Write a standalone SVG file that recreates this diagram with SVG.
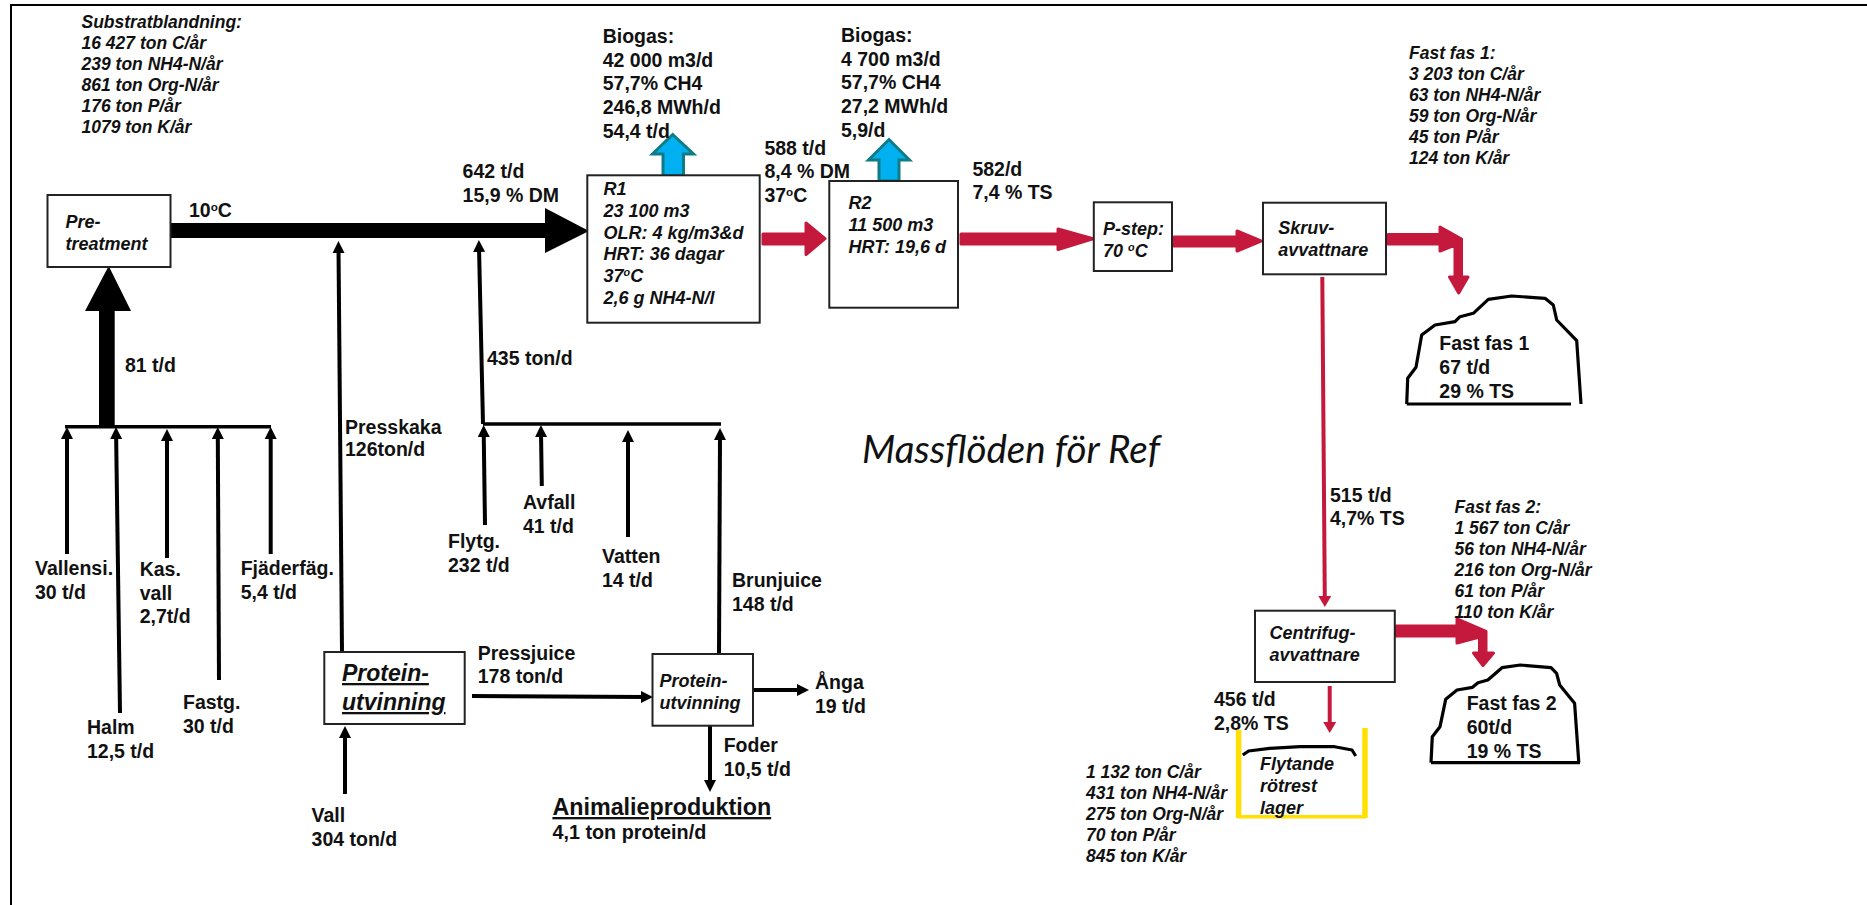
<svg xmlns="http://www.w3.org/2000/svg" width="1867" height="905" viewBox="0 0 1867 905">
<style>
text{font-family:"Liberation Sans",Arial,sans-serif;font-weight:bold;font-size:19.5px;fill:#111}
.i{font-style:italic;font-size:18px}
.l{font-style:italic;font-size:17.5px}
.box{fill:#fff;stroke:#222;stroke-width:2}
.k{fill:none;stroke:#000;stroke-width:4}
.b{fill:none;stroke:#000;stroke-width:3.5}
.kf{fill:#000;stroke:none}
.r{fill:#c4183c;stroke:#c4183c;stroke-width:3;stroke-linejoin:round}
.rl{fill:none;stroke:#c4183c;stroke-width:4}
.g{fill:#00b0f0;stroke:#0e7c86;stroke-width:3}
.p{fill:none;stroke:#000;stroke-width:3.2;stroke-linejoin:round;stroke-linecap:butt}
.y{fill:none;stroke:#ffe000;stroke-linecap:butt}
.s{font-size:60%;baseline-shift:super}
</style>
<defs>
<marker id="ah" markerUnits="userSpaceOnUse" markerWidth="12" markerHeight="13" refX="5" refY="6.5" orient="auto"><path d="M0 0.5L12 6.5L0 12.5Z" fill="#000"/></marker>
<marker id="rh" markerUnits="userSpaceOnUse" markerWidth="12" markerHeight="14" refX="2" refY="7" orient="auto"><path d="M0 0.5L11 7L0 13.5Z" fill="#c4183c"/></marker>
</defs>
<rect width="1867" height="905" fill="#fff"/>
<g id="frame"><path d="M11 905V5H1867" fill="none" stroke="#000" stroke-width="2"/></g>

<g id="connectors">
<path class="kf" d="M170 223H545V208L589 231L545 253V238H170Z"/>
<path class="kf" d="M99 427V311H85L108.700 266L131 311H114.700V427Z"/>
<path class="b" d="M65 426.700H271"/>
<path class="b" d="M483 424H721"/>
<path class="k" marker-end="url(#ah)" d="M67 554V434"/>
<path class="k" marker-end="url(#ah)" d="M120 713L116.100 434"/>
<path class="k" marker-end="url(#ah)" d="M167 558V436"/>
<path class="k" marker-end="url(#ah)" d="M219 680L217.800 434"/>
<path class="k" marker-end="url(#ah)" d="M270.700 554V434"/>
<path class="k" marker-end="url(#ah)" d="M342 652L338.500 248"/>
<path class="k" marker-end="url(#ah)" d="M483 424L479 247"/>
<path class="k" marker-end="url(#ah)" d="M485 525L483.700 432"/>
<path class="k" marker-end="url(#ah)" d="M541.800 486L541 432"/>
<path class="k" marker-end="url(#ah)" d="M628 537V437"/>
<path class="k" marker-end="url(#ah)" d="M719 654L720 435"/>
<path class="k" marker-end="url(#ah)" d="M345 794V733"/>
<path class="k" marker-end="url(#ah)" d="M472 696L646 697"/>
<path class="k" marker-end="url(#ah)" d="M753 690H802"/>
<path class="k" marker-end="url(#ah)" d="M710 726V785"/>
<path class="r" d="M763 234H806V223L825 238.700L806 254.500V244H763Z"/>
<path class="r" d="M961 234H1058V229L1093 238.700L1058 249.500V244H961Z"/>
<path class="r" d="M1174 237H1237V231L1261 241L1237 251V246H1174Z"/>
<path class="r" d="M1388 234.500H1440V227L1461.500 239V277H1468L1458.700 293L1449.500 277H1455V245L1440 251V244H1388Z"/>
<path class="rl" d="M1322.300 277L1324.800 598" marker-end="url(#rh)"/>
<path class="r" d="M1396 626H1457V619L1486 631.500V653H1493.500L1483 665.500L1473.500 653H1479.500V637L1457 643V636H1396Z"/>
<path class="rl" d="M1329.700 686V724" marker-end="url(#rh)"/>
<path class="g" d="M663 176V154H652.500L672.700 134.500L693.500 154H683.500V176Z"/>
<path class="g" d="M879 181V160H868.500L889 139.500L909.500 160H899V181Z"/>
</g>

<g id="pretreatment"><rect class="box" x="47.500" y="195" width="123" height="72"/>
<text class="i" x="65.600" y="228">Pre-</text><text class="i" x="65.600" y="250">treatment</text></g>

<g id="r1"><rect class="box" x="587.300" y="175.300" width="172.400" height="147.400"/>
<text class="i" x="603.500" y="195">R1</text><text class="i" x="603.500" y="216.500">23 100 m3</text><text class="i" x="603.500" y="238.500">OLR: 4 kg/m3&amp;d</text><text class="i" x="603.500" y="260">HRT: 36 dagar</text><text class="i" x="603.500" y="282">37<tspan class="s">o</tspan>C</text><text class="i" x="603.500" y="304">2,6 g NH4-N/l</text></g>

<g id="r2"><rect class="box" x="829.300" y="181" width="128.700" height="126.700"/>
<text class="i" x="848.600" y="209">R2</text><text class="i" x="848.600" y="231.300">11 500 m3</text><text class="i" x="848.600" y="253.300">HRT: 19,6 d</text></g>

<g id="pstep"><rect class="box" x="1093.800" y="202.300" width="78.200" height="68.700"/>
<text class="i" x="1103" y="235">P-step:</text><text class="i" x="1103" y="256.700">70 <tspan class="s">o</tspan>C</text></g>

<g id="skruv"><rect class="box" x="1263" y="202.700" width="123" height="71.600"/>
<text class="i" x="1278.300" y="234">Skruv-</text><text class="i" x="1278.300" y="256">avvattnare</text></g>

<g id="centrifug"><rect class="box" x="1255" y="610.700" width="139.800" height="71.300"/>
<text class="i" x="1269.600" y="639">Centrifug-</text><text class="i" x="1269.600" y="660.700">avvattnare</text></g>

<g id="protein1"><rect class="box" x="324.300" y="652" width="140.400" height="72"/>
<text class="i" x="342" y="681" style="font-size:23px;text-decoration:underline">Protein-</text><text class="i" x="342" y="710" style="font-size:23px;text-decoration:underline">utvinning</text></g>

<g id="protein2"><rect class="box" x="652.500" y="654" width="100.500" height="71.700"/>
<text class="i" x="659.600" y="687">Protein-</text><text class="i" x="659.600" y="709">utvinning</text></g>

<g id="fastfas1"><path class="p" d="M1406.700 404L1407.700 378.300L1416 367.300L1421.700 335L1435 325L1455 321.700L1460 316.700L1473.300 313.300L1488.300 299.300L1511.700 296L1545 298.300L1553.300 305L1556.700 320L1576.700 340.700L1581 404"/><path class="p" d="M1406.700 404H1571"/>
<text x="1439.300" y="350">Fast fas 1</text><text x="1439.300" y="374">67 t/d</text><text x="1439.300" y="397.700">29 % TS</text></g>

<g id="fastfas2"><path class="p" d="M1431 762.700L1432.300 736.700L1440 726.700L1445.700 699.300L1457 690L1472.500 687.300L1478 682.700L1487.800 680L1502 667.700L1520.300 665L1551 667.700L1556.600 673.300L1559.700 685L1574.600 703.300L1578.800 762.700"/><path class="p" d="M1431 762.700H1580"/>
<text x="1466.700" y="710">Fast fas 2</text><text x="1466.700" y="734.300">60t/d</text><text x="1466.700" y="757.700">19 % TS</text></g>

<g id="lager"><path class="y" stroke-width="5.500" d="M1238.600 730V818"/><path class="y" stroke-width="5.500" d="M1365 728V818"/><path class="y" stroke-width="3.500" d="M1238 816.700H1366"/>
<path class="p" d="M1242.800 755L1248.600 751L1269.600 748.300L1300.200 746.700L1334.700 746.700L1352 750L1355.700 756"/>
<text class="i" x="1260" y="770">Flytande</text><text class="i" x="1260" y="791.700">rötrest</text><text class="i" x="1260" y="814">lager</text></g>

<g id="animalie"><text x="552.400" y="815" style="font-size:23.300px;text-decoration:underline">Animalieproduktion</text><text x="552.400" y="839" style="font-size:19.800px">4,1 ton protein/d</text></g>

<g id="labels">
<text class="l" x="81.500" y="28">Substratblandning:</text><text class="l" x="81.500" y="49">16 427 ton C/år</text><text class="l" x="81.500" y="70">239 ton NH4-N/år</text><text class="l" x="81.500" y="91">861 ton Org-N/år</text><text class="l" x="81.500" y="112">176 ton P/år</text><text class="l" x="81.500" y="133">1079 ton K/år</text>
<text class="l" x="1409" y="59.300">Fast fas 1:</text><text class="l" x="1409" y="80">3 203 ton C/år</text><text class="l" x="1409" y="101">63 ton NH4-N/år</text><text class="l" x="1409" y="122">59 ton Org-N/år</text><text class="l" x="1409" y="143">45 ton P/år</text><text class="l" x="1409" y="164">124 ton K/år</text>
<text class="l" x="1454.500" y="512.700">Fast fas 2:</text><text class="l" x="1454.500" y="533.700">1 567 ton C/år</text><text class="l" x="1454.500" y="554.700">56 ton NH4-N/år</text><text class="l" x="1454.500" y="575.700">216 ton Org-N/år</text><text class="l" x="1454.500" y="596.700">61 ton P/år</text><text class="l" x="1454.500" y="617.700">110 ton K/år</text>
<text class="l" x="1086" y="778.300">1 132 ton C/år</text><text class="l" x="1086" y="799.300">431 ton NH4-N/år</text><text class="l" x="1086" y="820.300">275 ton Org-N/år</text><text class="l" x="1086" y="841.300">70 ton P/år</text><text class="l" x="1086" y="862.300">845 ton K/år</text>
<text x="602.700" y="42.700">Biogas:</text><text x="602.700" y="66.700">42 000 m3/d</text><text x="602.700" y="90">57,7% CH4</text><text x="602.700" y="114">246,8 MWh/d</text><text x="602.700" y="137.700">54,4 t/d</text>
<text x="841" y="41.700">Biogas:</text><text x="841" y="65.700">4 700 m3/d</text><text x="841" y="89.300">57,7% CH4</text><text x="841" y="113.300">27,2 MWh/d</text><text x="841" y="136.700">5,9/d</text>
<text x="462.600" y="178">642 t/d</text><text x="462.600" y="202">15,9 % DM</text>
<text x="189" y="216.700">10<tspan class="s">o</tspan>C</text>
<text x="125" y="372">81 t/d</text>
<text x="345" y="434">Presskaka</text><text x="345" y="456">126ton/d</text>
<text x="487" y="365">435 ton/d</text>
<text x="764.400" y="155">588 t/d</text><text x="764.400" y="178">8,4 % DM</text><text x="764.400" y="201.700">37<tspan class="s">o</tspan>C</text>
<text x="972.400" y="175.700">582/d</text><text x="972.400" y="199">7,4 % TS</text>
<text x="1330" y="501.700">515 t/d</text><text x="1330" y="525">4,7% TS</text>
<text x="1214" y="706">456 t/d</text><text x="1214" y="730">2,8% TS</text>
<text x="35" y="575">Vallensi.</text><text x="35" y="599">30 t/d</text>
<text x="87" y="734">Halm</text><text x="87" y="758">12,5 t/d</text>
<text x="139.700" y="575.700">Kas.</text><text x="139.700" y="600">vall</text><text x="139.700" y="622.700">2,7t/d</text>
<text x="183" y="709">Fastg.</text><text x="183" y="732.700">30 t/d</text>
<text x="240.700" y="575">Fjäderfäg.</text><text x="240.700" y="599">5,4 t/d</text>
<text x="448" y="548">Flytg.</text><text x="448" y="571.700">232 t/d</text>
<text x="523" y="509">Avfall</text><text x="523" y="533">41 t/d</text>
<text x="602" y="563">Vatten</text><text x="602" y="586.700">14 t/d</text>
<text x="732" y="586.700">Brunjuice</text><text x="732" y="610.700">148 t/d</text>
<text x="477.700" y="660">Pressjuice</text><text x="477.700" y="683">178 ton/d</text>
<text x="815" y="688.700">Ånga</text><text x="815" y="712.700">19 t/d</text>
<text x="723.700" y="751.700">Foder</text><text x="723.700" y="775.700">10,5 t/d</text>
<text x="311.600" y="822">Vall</text><text x="311.600" y="845.700">304 ton/d</text>
<text x="862" y="462.700" style="font-family:Lato,sans-serif;font-weight:normal;font-style:italic;font-size:38.600px">Massflöden för Ref</text>
</g>
</svg>
